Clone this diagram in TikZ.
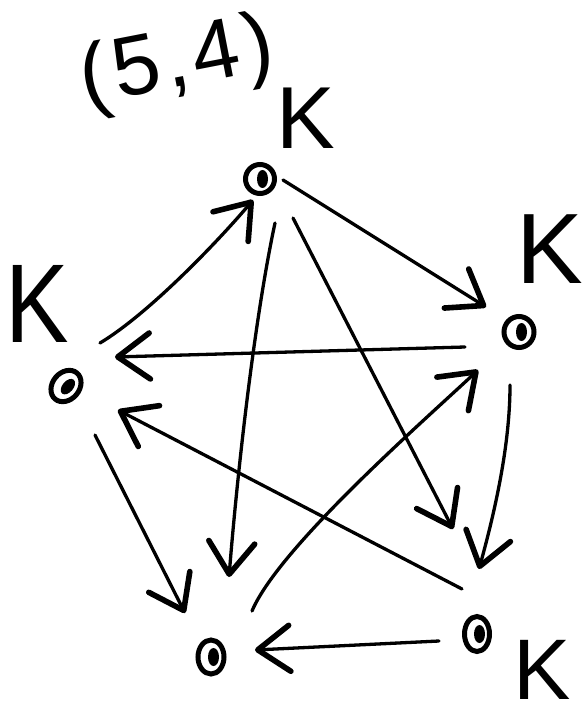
\documentclass[tikz,border=0pt]{standalone}
\usepackage{fontspec}
\usepackage{graphicx}
\setmainfont{Liberation Sans}
\usetikzlibrary{arrows.meta,shapes.geometric}
\begin{document}
\begin{tikzpicture}[x=1pt,y=-1pt,
  vert/.style={ellipse, draw, line width=5pt, inner sep=0pt, fill=white,
    path picture={\fill[black] ([xshift=2.5pt]path picture bounding box.center) ellipse (5.5pt and 9pt);}},
  edge/.style={line width=3.3pt, line cap=round,
    -{Straight Barb[length=32pt,width=46pt,line width=5.6pt,round]}},
  klabel/.style={inner sep=0pt},
  title/.style={inner sep=0pt, font=\fontsize{85}{85}\selectfont\addfontfeatures{LetterSpace=6}}]
\useasboundingbox (0,0) rectangle (582,711);
% vertices
\node[vert, minimum width=29pt, minimum height=29pt] (T) at (260,179) {};
\node[vert, minimum width=30pt, minimum height=31pt] (R) at (519,332) {};
\node[vert, minimum width=27pt, minimum height=34pt, rotate=-40] (L) at (66,386) {};
\node[vert, minimum width=26pt, minimum height=34pt] (BL) at (211,657) {};
\node[vert, minimum width=25pt, minimum height=35pt] (BR) at (477,634) {};
% labels
\node[title, rotate=11] (t) at (177,65) {(5,4)};
\node[klabel, font=\fontsize{88}{88}\selectfont] (kT) at (306,118) {K};
\node[klabel, font=\fontsize{100}{100}\selectfont] (kR) at (550,249) {K};
\node[klabel, font=\fontsize{112}{112}\selectfont] (kL) at (37,304) {\scalebox{0.85}[1]{K}};
\node[klabel, font=\fontsize{86}{86}\selectfont] (kBR) at (542,670) {K};
% edges
\draw[edge] ([shift={(34,-43)}]L.center) .. controls ([shift={(84,-73)}]L.center) and ([shift={(-39,59)}]T.center) .. ([shift={(-7,21)}]T.center);
\draw[edge] ([shift={(23,1)}]T.center) -- ([shift={(-33,-25)}]R.center);
\draw[edge] ([shift={(-54,15)}]R.center) -- ([shift={(49,-29)}]L.center);
\draw[edge] ([shift={(15,44)}]T.center) .. controls ([shift={(-6,142)}]T.center) and ([shift={(26,-180)}]BL.center) .. ([shift={(18,-80)}]BL.center);
\draw[edge] ([shift={(33,39)}]T.center) -- ([shift={(-24,-105)}]BR.center);
\draw[edge] ([shift={(-15,-45)}]BR.center) -- ([shift={(52,24)}]L.center);
\draw[edge] ([shift={(41,-46)}]BL.center) .. controls ([shift={(68,-110)}]BL.center) and ([shift={(-92,86)}]R.center) .. ([shift={(-41,38)}]R.center);
\draw[edge] ([shift={(-9,53)}]R.center) .. controls ([shift={(-9,113)}]R.center) and ([shift={(18,-123)}]BR.center) .. ([shift={(2,-65)}]BR.center);
\draw[edge] ([shift={(29,49)}]L.center) -- ([shift={(-26,-44)}]BL.center);
\draw[edge] ([shift={(-38,7)}]BR.center) -- ([shift={(44,-7)}]BL.center);
\end{tikzpicture}
\end{document}
